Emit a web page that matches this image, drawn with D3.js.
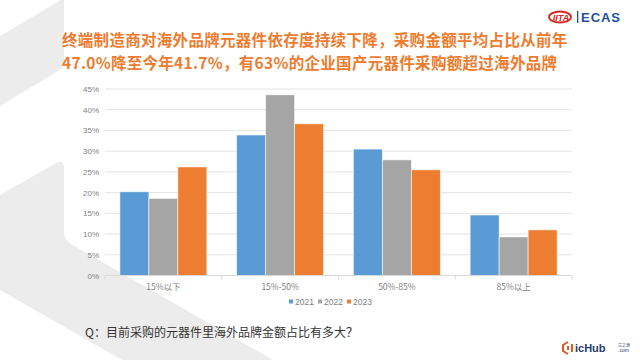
<!DOCTYPE html>
<html><head><meta charset="utf-8">
<script src="https://cdn.jsdelivr.net/npm/d3@7"></script>
<style>html,body{margin:0;padding:0;background:#fff;}svg{display:block;}</style>
</head><body>
<svg id="c" width="640" height="360"></svg>
<script>
const categories = ["15%以下", "15%-50%", "50%-85%", "85%以上"];
const years = ["2021", "2022", "2023"];
const values2021 = [20.2, 33.9, 30.5, 14.6];
const values2022 = [18.6, 43.6, 27.9, 9.3];
const values2023 = [26.2, 36.6, 25.5, 11.0];
const yTicks = [0, 5, 10, 15, 20, 25, 30, 35, 40, 45];
const colors = ["#5B9BD5", "#A5A5A5", "#ED7D31"];
const titleLines = ["终端制造商对海外品牌元器件依存度持续下降，采购金额平均占比从前年",
                    "47.0%降至今年41.7%，有63%的企业国产元器件采购额超过海外品牌"];
const question = "Q：目前采购的元器件里海外品牌金额占比有多大？";

const series = [values2021, values2022, values2023];
const svg = d3.select("#c");
const font = "'Noto Sans CJK SC','Noto Sans',sans-serif";

// background decoration
const bg = svg.append("g").attr("fill", "#ECECEC");
bg.append("path").attr("d", "M0,36 L61,0 L64,0 L64,62 Q64,68 58,71 L0,106 Z");
bg.append("path").attr("d", "M0,195 L56,163 Q64,159 64,168 L64,232 Q64,240 71,244 L273,360 L122,360 L0,290 Z");

// title
svg.append("g").selectAll("text").data(titleLines).join("text")
  .attr("x", 62).attr("y", (d, i) => 46 + i * 22.5)
  .attr("font-family", font).attr("font-weight", "bold").attr("font-size", 15.5)
  .attr("letter-spacing", 0.3)
  .attr("fill", "#EF7B2E").text(d => d);

// scales
const x0 = d3.scaleBand().domain(categories).range([105, 572]).paddingInner(0.255).paddingOuter(0.1275);
const x1 = d3.scaleBand().domain(years).range([0, x0.bandwidth()]);
const y = d3.scaleLinear().domain([0, 45]).range([275.5, 89]);

// gridlines
svg.append("g").selectAll("line").data(yTicks.filter(t => t > 0)).join("line")
  .attr("x1", 105).attr("x2", 572).attr("y1", d => y(d)).attr("y2", d => y(d))
  .attr("stroke", "#E4E4E4").attr("stroke-width", 1);

// y labels
svg.append("g").selectAll("text").data(yTicks).join("text")
  .attr("x", 99).attr("y", d => y(d) + 3).attr("text-anchor", "end")
  .attr("font-family", "'Liberation Sans',Arial,sans-serif").attr("font-size", 8)
  .attr("fill", "#7F7F7F").text(d => d + "%");

// bars
const groups = svg.append("g").selectAll("g").data(categories).join("g")
  .attr("transform", c => `translate(${x0(c)},0)`);
groups.selectAll("rect").data((c, ci) => years.map((yr, si) => ({yr, si, v: series[si][ci]}))).join("rect")
  .attr("x", d => x1(d.yr)).attr("width", x1.bandwidth())
  .attr("y", d => y(d.v)).attr("height", d => y(0) - y(d.v))
  .attr("fill", d => colors[d.si]).attr("stroke", "#fff").attr("stroke-width", 0.8).attr("stroke-opacity", 0.7);

// x axis
const xAxis = svg.append("g").attr("transform", `translate(0,${y(0)})`);
xAxis.append("line").attr("x1", 105).attr("x2", 572).attr("stroke", "#D9D9D9");
const bounds = [105].concat(categories.map(c => x0(c) + x0.bandwidth() + x0.step() * x0.paddingInner() / 2));
bounds[bounds.length - 1] = 572;
xAxis.selectAll("line.t").data(bounds).join("line").attr("class", "t")
  .attr("x1", d => d).attr("x2", d => d).attr("y1", 0).attr("y2", 4).attr("stroke", "#D9D9D9");
xAxis.selectAll("text").data(categories).join("text")
  .attr("x", c => x0(c) + x0.bandwidth() / 2).attr("y", 14).attr("text-anchor", "middle")
  .attr("font-family", font).attr("font-size", 8.5).attr("fill", "#7F7F7F").text(c => c);

// legend
const lg = svg.append("g").selectAll("g").data(years).join("g")
  .attr("transform", (d, i) => `translate(${289 + i * 29},302)`);
lg.append("rect").attr("x", 0).attr("y", -2.5).attr("width", 4).attr("height", 4).attr("fill", (d, i) => colors[i]);
lg.append("text").attr("x", 6).attr("y", 3).attr("font-family", "'Liberation Sans',Arial,sans-serif")
  .attr("font-size", 8.5).attr("fill", "#7F7F7F").text(d => d);

// question
svg.append("text").attr("x", 85).attr("y", 337).attr("font-family", font).attr("font-size", 12)
  .attr("fill", "#333").text(question);

// top-right logo
const logo = svg.append("g").attr("transform", "translate(548,17)");
logo.append("ellipse").attr("cx", 12).attr("cy", 0).attr("rx", 11).attr("ry", 5.5)
  .attr("fill", "none").attr("stroke", "#D7261E").attr("stroke-width", 1.8);
logo.append("text").attr("x", 13).attr("y", 3.5).attr("text-anchor", "middle")
  .attr("font-family", "'Liberation Sans',Arial,sans-serif").attr("font-weight", "bold").attr("font-style", "italic")
  .attr("font-size", 9).attr("fill", "#D7261E").text("IITA");
logo.append("rect").attr("x", 29).attr("y", -6).attr("width", 1.3).attr("height", 12).attr("fill", "#2450A0");
logo.append("text").attr("x", 33).attr("y", 5).attr("font-family", "'Liberation Sans',Arial,sans-serif")
  .attr("font-weight", "bold").attr("font-size", 13).attr("fill", "#2450A0").attr("textLength", 39).text("ECAS");

// bottom-right logo
const lb = svg.append("g").attr("transform", "translate(563,348)");
lb.append("path").attr("d", "M5,-6 L0,-3 L0,3 L5,6 M9,-4 L9,4 M5,-2 L5,2")
  .attr("fill", "none").attr("stroke", "#E8541E").attr("stroke-width", 2);
lb.append("text").attr("x", 12).attr("y", 4).attr("font-family", "'Liberation Sans',Arial,sans-serif")
  .attr("font-weight", "bold").attr("font-size", 11).attr("fill", "#1F3C6E").text("icHub");
lb.append("text").attr("x", 55).attr("y", -1).attr("font-family", font).attr("font-size", 4).attr("fill", "#1F3C6E").text("芯之源");
lb.append("text").attr("x", 55).attr("y", 4).attr("font-family", "'Liberation Sans',Arial,sans-serif").attr("font-size", 5).attr("fill", "#1F3C6E").text(".com");
</script>
</body></html>
